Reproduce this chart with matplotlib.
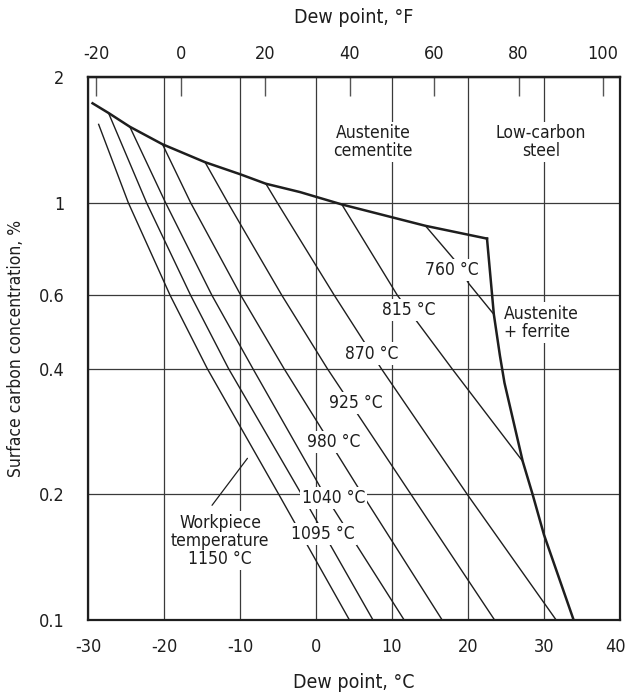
import numpy as np
import matplotlib.pyplot as plt
from matplotlib.ticker import FixedLocator, FixedFormatter, NullLocator
from matplotlib.transforms import ScaledTranslation

plt.rcParams['font.family'] = ['DejaVu Sans']
plt.rcParams['font.stretch'] = 'condensed'
plt.rcParams['axes.unicode_minus'] = False

# phase boundary: upper edge (austenite / cementite) and right edge (austenite + ferrite)
upper_t = [-29.4, -27.3, -24.5, -20.2, -14.6, -10.0, -6.6, -2.1, 3.4, 14.4, 22.5]
upper_c = [1.73, 1.64, 1.52, 1.38, 1.25, 1.17, 1.11, 1.06, 0.99, 0.88, 0.82]
right_t = [22.5, 23.4, 24.2, 24.8, 27.2, 28.5, 30.0, 33.9]
right_c = [0.82, 0.54, 0.43, 0.37, 0.24, 0.20, 0.16, 0.10]

# workpiece temperature lines (dew point in C, surface carbon in %)
t1150 = [-28.6, -24.7, -19.2, -14.3, -4.9, 4.4]
c1150 = [1.54, 1.0, 0.6, 0.4, 0.2, 0.1]
t1095 = [-27.3, -22.3, -16.5, -11.5, -1.9, 7.5]
c1095 = [1.64, 1.0, 0.6, 0.4, 0.2, 0.1]
t1040 = [-24.5, -19.8, -13.7, -8.3, 1.1, 11.6]
c1040 = [1.52, 1.0, 0.6, 0.4, 0.2, 0.1]
t980 = [-20.2, -16.5, -9.9, -4.2, 6.1, 16.6]
c980 = [1.38, 1.0, 0.6, 0.4, 0.2, 0.1]
t925 = [-14.6, -11.6, -4.5, 1.5, 12.5, 23.5]
c925 = [1.25, 1.0, 0.6, 0.4, 0.2, 0.1]
t870 = [-6.6, -5.1, 2.4, 8.6, 19.9, 31.6]
c870 = [1.11, 1.0, 0.6, 0.4, 0.2, 0.1]
t815 = [3.4, 10.7, 17.9, 27.2]
c815 = [0.99, 0.6, 0.4, 0.24]
t760 = [14.4, 18.2, 20.1, 23.4]
c760 = [0.88, 0.73, 0.64, 0.54]

c_ticks = [-30, -20, -10, 0, 10, 20, 30, 40]
f_ticks = [-20, 0, 20, 40, 60, 80, 100]
y_ticks = [0.1, 0.2, 0.4, 0.6, 1, 2]
y_labels = ['0.1', '0.2', '0.4', '0.6', '1', '2']

lines = [(t1150, c1150), (t1095, c1095), (t1040, c1040), (t980, c980),
         (t925, c925), (t870, c870), (t815, c815), (t760, c760)]

ink = '#1e1e1e'

fig = plt.figure(figsize=(6.27, 6.96), dpi=100)
ax = fig.add_axes([88/627, 76/696, 532/627, 543/696])

ax.set_yscale('log')
ax.set_xlim(-30, 40)
ax.set_ylim(0.1, 2)

for t, c in lines:
    ax.plot(t, c, color=ink, lw=1.0, zorder=3)
ax.plot(upper_t, upper_c, color=ink, lw=1.8, zorder=3)
ax.plot(right_t, right_c, color=ink, lw=1.8, zorder=3)

# grid and frame
ax.xaxis.set_major_locator(FixedLocator(c_ticks))
ax.yaxis.set_major_locator(FixedLocator(y_ticks))
ax.yaxis.set_major_formatter(FixedFormatter(y_labels))
ax.yaxis.set_minor_locator(NullLocator())
ax.grid(True, color='#3a3a3a', lw=0.9)
ax.set_axisbelow(True)
ax.tick_params(length=0, labelsize=13, colors=ink)
ax.tick_params(axis='x', pad=13)
ax.tick_params(axis='y', pad=17)
for s in ax.spines.values():
    s.set_linewidth(1.6)
    s.set_color(ink)

# nudge the last bottom label so it stays inside the picture
last = ax.get_xticklabels()[-1]
last.set_transform(last.get_transform() + ScaledTranslation(-5/100, 0, fig.dpi_scale_trans))

ax.set_xlabel('Dew point, °C', fontsize=14, color=ink, labelpad=12)
ax.set_ylabel('Surface carbon concentration, %', fontsize=12.5, color=ink, labelpad=10)

# Fahrenheit scale on top
sec = ax.secondary_xaxis('top', functions=(lambda c: c * 9 / 5 + 32,
                                           lambda f: (f - 32) * 5 / 9))
sec.set_xticks(f_ticks)
sec.tick_params(direction='in', length=14, width=1, color='#555555',
                labelsize=13, labelcolor=ink, pad=10)
sec.spines['top'].set_linewidth(1.6)
sec.set_xlabel('Dew point, °F', fontsize=14, color=ink, labelpad=16)

# labels
box = dict(facecolor='white', edgecolor='none', pad=1.5)
kw = dict(fontsize=12.5, color=ink, ha='center', va='center', bbox=box, zorder=5)
ax.text(17.9, 0.69, '760 °C', **kw)
ax.text(12.2, 0.553, '815 °C', **kw)
ax.text(7.3, 0.435, '870 °C', **kw)
ax.text(5.3, 0.331, '925 °C', **kw)
ax.text(2.3, 0.267, '980 °C', **kw)
ax.text(2.3, 0.196, '1040 °C', **kw)
ax.text(0.9, 0.161, '1095 °C', **kw)
ax.text(-12.6, 0.155, 'Workpiece\ntemperature\n1150 °C', linespacing=1.0, **kw)
ax.text(7.5, 1.40, 'Austenite\ncementite', linespacing=1.0, **kw)
ax.text(29.6, 1.40, 'Low-carbon\nsteel', linespacing=1.0, **kw)
ax.text(24.7, 0.516, 'Austenite\n+ ferrite', fontsize=12.5, color=ink,
        ha='left', va='center', linespacing=1.0, bbox=box, zorder=5)
ax.annotate('', xy=(-8.8, 0.247), xytext=(-13.9, 0.186),
            arrowprops=dict(arrowstyle='-', color=ink, lw=0.9), zorder=4)

fig.savefig('out.png', dpi=100)
